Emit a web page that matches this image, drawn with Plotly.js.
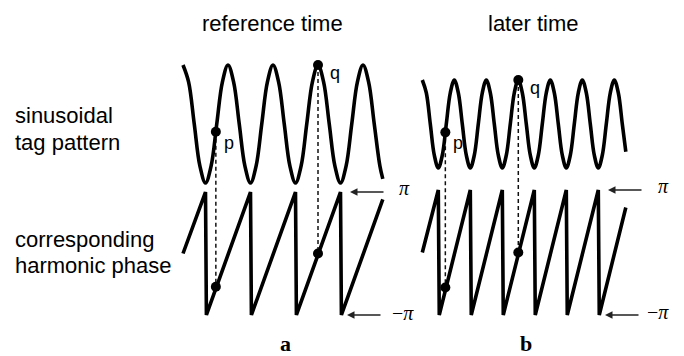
<!DOCTYPE html>
<html><head><meta charset="utf-8">
<script src="https://cdn.plot.ly/plotly-3.0.1.min.js"></script>
<style>html,body{margin:0;padding:0;background:#fff}#chart{width:684px;height:356px}</style>
</head><body><div id="chart"></div>
<script>
// ---------- DATA (position along the tag pattern in tag cycles) ----------
// Panel a: reference time
const refSinX = [0,0.125,0.25,0.375,0.5,0.625,0.75,0.875,
                 1,1.125,1.25,1.375,1.5,1.625,1.75,1.875,
                 2,2.125,2.25,2.375,2.5,2.625,2.75,2.875,
                 3,3.125,3.25,3.375,3.5,3.625,3.75,3.875,
                 4,4.125,4.25,4.375,4.44];
const refSinY = [1,0.71,0,-0.71,-1,-0.71,0,0.71,
                 1,0.71,0,-0.71,-1,-0.71,0,0.71,
                 1,0.71,0,-0.71,-1,-0.71,0,0.71,
                 1,0.71,0,-0.71,-1,-0.71,0,0.71,
                 1,0.71,0,-0.71,-0.93];
const refPhaseX = [0,0.5,0.52,1.5,1.52,2.5,2.52,3.5,3.52,4.44];
const refPhaseY = [0,3.14,-3.14,3.14,-3.14,3.14,-3.14,3.14,-3.14,2.76];
const refPointX = [0.73,3];
const refPointSin = [-0.13,1];
const refPointPhase = [-1.70,0];

// Panel b: later time
const laterSinX = [0,0.125,0.25,0.375,0.5,0.625,0.75,0.875,
                   1,1.125,1.25,1.375,1.5,1.625,1.75,1.875,
                   2,2.125,2.25,2.375,2.5,2.625,2.75,2.875,
                   3,3.125,3.25,3.375,3.5,3.625,3.75,3.875,
                   4,4.125,4.25,4.375,4.5,4.625,4.75,4.875,
                   5,5.125,5.25,5.375,5.5,5.625,5.75,5.875,
                   6,6.125,6.25,6.36];
const laterSinY = [1,0.71,0,-0.71,-1,-0.71,0,0.71,
                   1,0.71,0,-0.71,-1,-0.71,0,0.71,
                   1,0.71,0,-0.71,-1,-0.71,0,0.71,
                   1,0.71,0,-0.71,-1,-0.71,0,0.71,
                   1,0.71,0,-0.71,-1,-0.71,0,0.71,
                   1,0.71,0,-0.71,-1,-0.71,0,0.71,
                   1,0.71,0,-0.63];
const laterPhaseX = [0,0.5,0.53,1.5,1.53,2.5,2.53,3.5,3.53,4.5,4.53,5.5,5.53,6.36];
const laterPhaseY = [0,3.14,-3.14,3.14,-3.14,3.14,-3.14,3.14,-3.14,3.14,-3.14,3.14,-3.14,2.26];
const laterPointX = [0.72,3];
const laterPointSin = [-0.19,1];
const laterPointPhase = [-1.76,0];

const pointLabels = ['p','q'];
const columnTitles = ['reference time','later time'];
const rowLabels = [['sinusoidal','tag pattern'],['corresponding','harmonic phase']];
const panelLetters = ['a','b'];
const phaseLabels = ['<i>\u03c0</i>','\u2212<i>\u03c0</i>'];

// ---------- GEOMETRY ----------
const W = 684, H = 356;
const PX = p => p / W;
const PY = p => 1 - p / H;
// x axis: pixel = origin + scale*value
function xAx(origin, scale, r0, r1){
  return {domain:[(origin+scale*r0)/W,(origin+scale*r1)/W], range:[r0,r1], visible:false, fixedrange:true};
}
// y axis: pixel = origin - scale*value
function yAx(origin, scale, r0, r1, anchor){
  return {domain:[1-(origin-scale*r0)/H,1-(origin-scale*r1)/H], range:[r0,r1], anchor:anchor, visible:false, fixedrange:true};
}
function toPaperY(ax, v){
  return ax.domain[0] + (v-ax.range[0])/(ax.range[1]-ax.range[0])*(ax.domain[1]-ax.domain[0]);
}

const xa = xAx(183, 45, -0.3, 4.75);
const xb = xAx(422.3, 32, -0.3, 6.7);
const yaSin = yAx(124, 59, -1.3, 1.3, 'x');
const yaPh = yAx(253.5, 61.5/Math.PI, -3.7, 3.7, 'x');
const ybSin = yAx(124, 44, -1.35, 1.35, 'x2');
const ybPh = yAx(252.5, 62.5/Math.PI, -3.7, 3.7, 'x2');

const lineStyle = {color:'#000', width:3.6};
const mk = {color:'#000', size:10};
const traces = [
  {x:refSinX, y:refSinY, xaxis:'x', yaxis:'y', mode:'lines', line:Object.assign({shape:'spline', smoothing:1}, lineStyle)},
  {x:refPhaseX, y:refPhaseY, xaxis:'x', yaxis:'y2', mode:'lines', line:lineStyle},
  {x:refPointX, y:refPointSin, xaxis:'x', yaxis:'y', mode:'markers', marker:mk, cliponaxis:false},
  {x:refPointX, y:refPointPhase, xaxis:'x', yaxis:'y2', mode:'markers', marker:mk, cliponaxis:false},
  {x:laterSinX, y:laterSinY, xaxis:'x2', yaxis:'y3', mode:'lines', line:Object.assign({shape:'spline', smoothing:1}, lineStyle)},
  {x:laterPhaseX, y:laterPhaseY, xaxis:'x2', yaxis:'y4', mode:'lines', line:lineStyle},
  {x:laterPointX, y:laterPointSin, xaxis:'x2', yaxis:'y3', mode:'markers', marker:mk, cliponaxis:false},
  {x:laterPointX, y:laterPointPhase, xaxis:'x2', yaxis:'y4', mode:'markers', marker:mk, cliponaxis:false}
];

const shapes = [];
function dashLines(xref, xs, sinAx, sinV, phAx, phV){
  for(let i=0;i<xs.length;i++){
    shapes.push({type:'line', xref:xref, yref:'paper', x0:xs[i], x1:xs[i],
      y0:toPaperY(sinAx, sinV[i]), y1:toPaperY(phAx, phV[i]),
      line:{color:'#111', width:1.5, dash:'4px,3px'}, layer:'below'});
  }
}
dashLines('x', refPointX, yaSin, refPointSin, yaPh, refPointPhase);
dashLines('x2', laterPointX, ybSin, laterPointSin, ybPh, laterPointPhase);

const sans = 'Liberation Sans, Arial, sans-serif';
const serif = 'Liberation Serif, Times New Roman, serif';
const ann = [];
function txt(text, x, y, size, family, xanchor, pad){
  ann.push({text:text, xref:'paper', yref:'paper', x:PX(x), y:PY(y), showarrow:false,
    xanchor:xanchor||'center', yanchor:'middle', borderpad:(pad===undefined?1:pad), borderwidth:0,
    font:{family:family, size:size, color:'#000'}});
}
txt(columnTitles[0], 272, 23.4, 22, sans);
txt(columnTitles[1], 533, 23.4, 22, sans);
txt(rowLabels[0][0], 14, 115.4, 22, sans, 'left');
txt(rowLabels[0][1], 14, 142.4, 22, sans, 'left');
txt(rowLabels[1][0], 14, 239.4, 22, sans, 'left');
txt(rowLabels[1][1], 14, 265.4, 22, sans, 'left');
txt('<b>'+panelLetters[0]+'</b>', 285.7, 343.4, 22, serif, 'center', 0);
txt('<b>'+panelLetters[1]+'</b>', 525.7, 343.4, 22, serif, 'center', 0);
txt(phaseLabels[0], 404, 188.3, 20, serif);
txt(phaseLabels[1], 403, 313.3, 20, serif);
txt(phaseLabels[0], 663, 186, 20, serif);
txt(phaseLabels[1], 658, 312, 20, serif);

// point labels, tied to the points
function ptLabels(xref, yref, xs, vs){
  for(let i=0;i<xs.length;i++){
    ann.push({text:pointLabels[i], xref:xref, yref:yref, x:xs[i], y:vs[i], showarrow:false,
      xshift: i===0?13:17, yshift: i===0?-11:-8, font:{family:sans, size:18, color:'#000'}});
  }
}
ptLabels('x','y', refPointX, refPointSin);
ptLabels('x2','y3', laterPointX, laterPointSin);

// arrows pointing at the +pi / -pi levels
function arrow(headX, yref, v){
  ann.push({text:'', xref:'paper', yref:yref, x:PX(headX), y:v, showarrow:true,
    ax:35, ay:0, axref:'pixel', ayref:'pixel', arrowhead:2, arrowsize:1, arrowwidth:1.5,
    arrowcolor:'#222', standoff:0});
}
arrow(350, 'y2', Math.PI);
arrow(347, 'y2', -Math.PI);
arrow(608, 'y4', Math.PI);
arrow(605, 'y4', -Math.PI);

const layout = {
  width:W, height:H, margin:{l:0,r:0,t:0,b:0}, showlegend:false,
  paper_bgcolor:'#fff', plot_bgcolor:'rgba(0,0,0,0)',
  xaxis:xa, xaxis2:xb, yaxis:yaSin, yaxis2:yaPh, yaxis3:ybSin, yaxis4:ybPh,
  shapes:shapes, annotations:ann
};
Plotly.newPlot('chart', traces, layout, {staticPlot:true, displayModeBar:false});
</script>
</body></html>
